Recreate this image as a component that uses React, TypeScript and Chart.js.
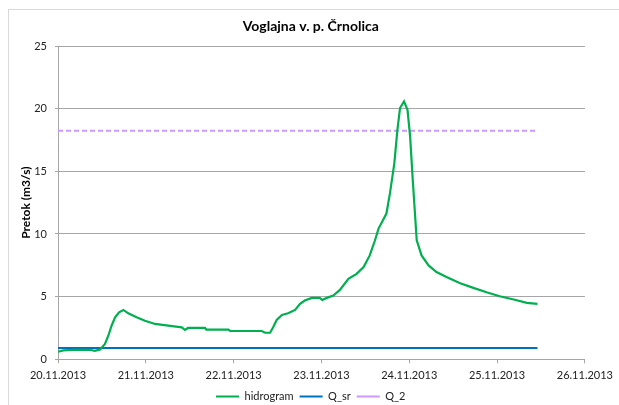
import React, { useEffect, useRef } from "react";
import { Chart, registerables } from "chart.js";

Chart.register(...registerables);

const titleText = "Voglajna v. p. Črnolica";
const yAxisTitle = "Pretok (m3/s)";
const dateLabels = ["20.11.2013", "21.11.2013", "22.11.2013", "23.11.2013", "24.11.2013", "25.11.2013", "26.11.2013"];

// time in days since 20.11.2013 00:00
const hidroDays = [0, 0.06, 0.19, 0.36, 0.42, 0.48, 0.535, 0.573, 0.61, 0.65, 0.695, 0.745, 0.8, 0.895, 0.99, 1.105, 1.256, 1.41, 1.446, 1.48, 1.674, 1.69, 1.94, 1.96, 2.32, 2.36, 2.415, 2.45, 2.49, 2.55, 2.62, 2.7, 2.756, 2.81, 2.89, 2.98, 3.01, 3.06, 3.135, 3.21, 3.307, 3.4, 3.48, 3.55, 3.61, 3.65, 3.74, 3.78, 3.83, 3.865, 3.895, 3.94, 3.98, 4.01, 4.04, 4.085, 4.14, 4.22, 4.31, 4.43, 4.58, 4.73, 4.88, 5.03, 5.19, 5.34, 5.46];
const hidroValues = [0.6, 0.71, 0.76, 0.76, 0.68, 0.79, 1.22, 1.88, 2.68, 3.35, 3.75, 3.94, 3.67, 3.35, 3.08, 2.82, 2.68, 2.55, 2.34, 2.5, 2.5, 2.36, 2.36, 2.26, 2.26, 2.12, 2.12, 2.55, 3.14, 3.54, 3.67, 3.94, 4.42, 4.69, 4.9, 4.9, 4.74, 4.9, 5.09, 5.54, 6.42, 6.82, 7.36, 8.29, 9.5, 10.43, 11.63, 13.24, 15.64, 18.31, 20.05, 20.58, 19.91, 17.77, 14.3, 9.5, 8.29, 7.49, 6.96, 6.55, 6.07, 5.7, 5.35, 5.03, 4.77, 4.5, 4.42];

const refDays = [0, 5.46];
const qSrValues = [0.91, 0.91];
const q2Values = [18.24, 18.24];

const yMin = 0;
const yMax = 25;
const yStep = 5;

export default function App() {
  const canvasRef = useRef<HTMLCanvasElement | null>(null);

  useEffect(() => {
    document.body.style.margin = "0";
    const canvas = canvasRef.current;
    if (!canvas) return;
    const fontFamily = "Lato, 'Liberation Sans', sans-serif";
    const toXY = (xs: number[], ys: number[]) => xs.map((x, i) => ({ x, y: ys[i] }));

    const chart = new Chart(canvas, {
      type: "line",
      data: {
        datasets: [
          {
            label: "hidrogram",
            data: toXY(hidroDays, hidroValues),
            borderColor: "#00b050",
            backgroundColor: "#00b050",
            borderWidth: 2.2,
            pointRadius: 0,
            pointStyle: "line",
            tension: 0,
          },
          {
            label: "Q_sr",
            data: toXY(refDays, qSrValues),
            borderColor: "#0070c0",
            backgroundColor: "#0070c0",
            borderWidth: 2,
            pointRadius: 0,
            pointStyle: "line",
          },
          {
            label: "Q_2",
            data: toXY(refDays, q2Values),
            borderColor: "#cc99ff",
            backgroundColor: "#cc99ff",
            borderWidth: 2,
            borderDash: [5, 3],
            pointRadius: 0,
            pointStyle: "line",
          },
        ],
      },
      options: {
        animation: false,
        responsive: false,
        maintainAspectRatio: false,
        layout: { padding: { left: 13, right: 10.5, top: 0, bottom: -7 } },
        plugins: {
          title: {
            display: true,
            text: titleText,
            color: "#000",
            font: { family: fontFamily, size: 14, weight: "bold" },
            padding: { top: 17.6, bottom: 11.6 },
          },
          legend: {
            position: "bottom",
            labels: {
              usePointStyle: true,
              pointStyleWidth: 23,
              boxHeight: 10,
              color: "#222",
              padding: 6,
              font: { family: fontFamily, size: 11 },
            },
          },
          tooltip: { enabled: false },
        },
        scales: {
          x: {
            type: "linear",
            min: 0,
            max: 6,
            ticks: {
              stepSize: 1,
              color: "#222",
              padding: 6,
              maxRotation: 0,
              autoSkip: false,
              font: { family: fontFamily, size: 11 },
              callback: (v: any) => dateLabels[Math.round(Number(v))] ?? "",
            },
            grid: { drawOnChartArea: false, drawTicks: true, tickLength: 4, color: "#a6a6a6" },
            border: { color: "#a6a6a6", width: 1 },
            afterFit: (scale: any) => {
              scale.height = scale.height - 3.5;
            },
          },
          y: {
            min: yMin,
            max: yMax,
            ticks: {
              stepSize: yStep,
              color: "#222",
              padding: 8,
              font: { family: fontFamily, size: 11 },
            },
            grid: { color: "#a6a6a6", tickLength: 3, drawTicks: true },
            border: { color: "#a6a6a6", width: 1 },
            title: {
              display: true,
              text: yAxisTitle,
              color: "#000",
              font: { family: fontFamily, size: 12, weight: "bold" },
              padding: { top: 6, bottom: 0 },
            },
            afterFit: (scale: any) => {
              scale.width = 45;
            },
          },
        },
      },
    });
    return () => chart.destroy();
  }, []);

  return (
    <div style={{ position: "relative", width: 619, height: 405, overflow: "hidden", background: "#fff" }}>
      <div
        style={{
          position: "absolute",
          left: 8,
          top: 9,
          width: 700,
          height: 500,
          borderLeft: "1px solid #d9d9d9",
          borderTop: "1px solid #d9d9d9",
        }}
      />
      <canvas ref={canvasRef} width={619} height={405} style={{ position: "absolute", left: 0, top: 0, width: 619, height: 405 }} />
    </div>
  );
}
